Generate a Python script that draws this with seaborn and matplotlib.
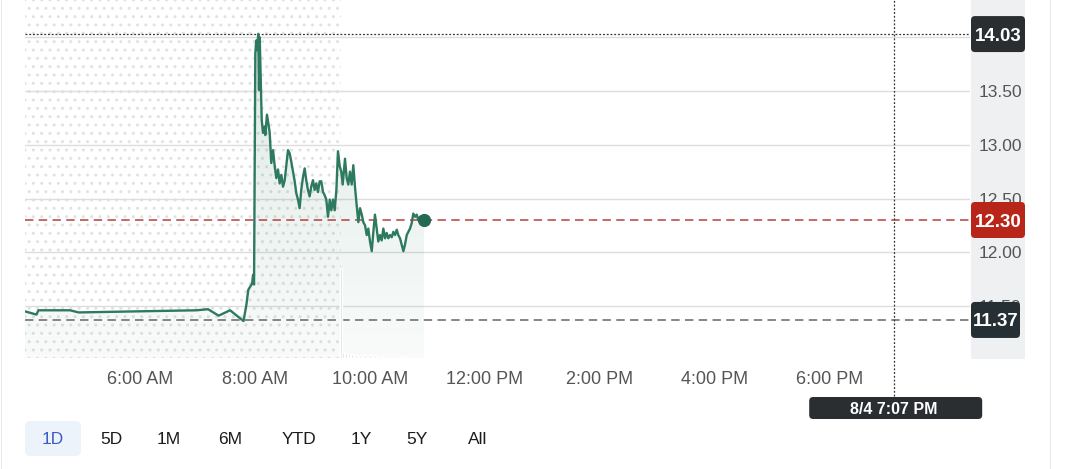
import numpy as np
import pandas as pd
import matplotlib
matplotlib.use("Agg")
import matplotlib.pyplot as plt
import seaborn as sns
from matplotlib.patches import FancyBboxPatch, Rectangle

# intraday price (times are local, HH:MM:SS)
times = [
    "04:00:00", "04:12:00", "04:14:00", "04:47:00", "04:56:00", "06:59:00", "07:11:00",
    "07:22:00", "07:34:00", "07:48:00", "07:51:00", "07:53:00", "07:57:00", "07:58:00",
    "07:59:00", "08:00:20", "08:01:15", "08:02:05", "08:03:25", "08:04:10", "08:04:55",
    "08:05:45", "08:07:00", "08:08:20", "08:10:05", "08:10:45", "08:12:30", "08:14:15",
    "08:15:20", "08:17:00", "08:18:50", "08:20:35", "08:22:15", "08:24:00", "08:25:45",
    "08:27:30", "08:29:15", "08:31:00", "08:34:25", "08:36:10", "08:37:55", "08:39:40",
    "08:41:25", "08:43:05", "08:44:50", "08:46:35", "08:48:15", "08:50:05", "08:51:50",
    "08:53:30", "08:55:15", "08:57:00", "08:58:40", "09:00:30", "09:02:15", "09:03:55",
    "09:05:40", "09:07:30", "09:09:10", "09:11:00", "09:12:45", "09:14:25", "09:16:10",
    "09:18:00", "09:19:40", "09:21:25", "09:23:10", "09:24:55", "09:26:35", "09:28:25",
    "09:30:00", "09:31:30", "09:33:55", "09:35:40", "09:37:20", "09:39:05", "09:40:55",
    "09:42:35", "09:44:25", "09:46:05", "09:47:50", "09:49:35", "09:51:25", "09:53:00",
    "09:54:50", "09:56:35", "09:58:15", "10:00:00", "10:01:50", "10:03:30", "10:05:10",
    "10:07:00", "10:08:40", "10:10:25", "10:12:10", "10:13:55", "10:15:40", "10:17:25",
    "10:19:05", "10:20:55", "10:22:40", "10:24:20", "10:26:05", "10:27:55", "10:29:30",
    "10:31:20", "10:33:05", "10:34:50", "10:36:30", "10:38:20", "10:40:00", "10:41:45",
    "10:43:30", "10:45:10", "10:47:00", "10:48:45", "10:50:25", "10:52:10", "10:56:25",
]
prices = [
    11.45, 11.42, 11.46, 11.46, 11.44, 11.46, 11.47,
    11.41, 11.46, 11.36, 11.51, 11.65, 11.71, 11.79,
    11.70, 13.85, 13.97, 13.88, 14.03, 13.51, 14.00,
    13.70, 13.23, 13.11, 13.17, 13.09, 13.28, 13.18,
    13.11, 12.83, 12.95, 12.80, 12.69, 12.77, 12.64,
    12.72, 12.61, 12.67, 12.95, 12.92, 12.84, 12.75,
    12.66, 12.55, 12.49, 12.41, 12.58, 12.70, 12.78,
    12.67, 12.58, 12.52, 12.61, 12.67, 12.58, 12.64,
    12.56, 12.66, 12.66, 12.56, 12.53, 12.49, 12.33,
    12.49, 12.39, 12.49, 12.39, 12.58, 12.94, 12.80,
    12.75, 12.63, 12.87, 12.69, 12.63, 12.75, 12.63,
    12.81, 12.60, 12.44, 12.28, 12.41, 12.35, 12.28,
    12.25, 12.16, 12.22, 12.10, 12.01, 12.19, 12.35,
    12.22, 12.10, 12.16, 12.11, 12.22, 12.13, 12.18,
    12.13, 12.16, 12.14, 12.19, 12.16, 12.21, 12.16,
    12.13, 12.07, 12.01, 12.07, 12.16, 12.19, 12.22,
    12.27, 12.36, 12.33, 12.35, 12.30, 12.33, 12.30,
]

# faint volume bars of the regular session (thousand shares, estimated)
vol_times = ["09:30:00", "09:32:00", "09:35:00", "09:38:00", "09:41:00", "09:45:00",
             "09:50:00", "09:55:00", "10:00:00", "10:05:00", "10:10:00", "10:15:00",
             "10:20:00", "10:25:00", "10:30:00", "10:35:00", "10:40:00", "10:45:00",
             "10:50:00", "10:55:00"]
vol_values = [900, 60, 50, 45, 40, 35, 30, 30, 35, 30, 25, 25,
              20, 20, 25, 20, 20, 25, 20, 20]

prev_close = 11.37
day_high = 14.03
last_price = 12.30
session_open = "09:30:00"
cursor_time = "19:07:00"
cursor_label = "8/4 7:07 PM"

x_ticks = [6, 8, 10, 12, 14, 16, 18]
x_tick_labels = ["6:00 AM", "8:00 AM", "10:00 AM", "12:00 PM", "2:00 PM", "4:00 PM", "6:00 PM"]
y_ticks = [11.5, 12.0, 12.5, 13.0, 13.5, 14.0]
ranges = ["1D", "5D", "1M", "6M", "YTD", "1Y", "5Y", "All"]
range_x = [53, 111, 169, 230, 299, 361, 417, 478]


def to_hours(t):
    return pd.to_timedelta(pd.Series(t)).dt.total_seconds().to_numpy() / 3600


df = pd.DataFrame({"hour": to_hours(times), "price": prices})
vol = pd.DataFrame({"hour": to_hours(vol_times), "volume": vol_values})

sns.set_theme(style="white")
plt.rcParams["font.family"] = ["Liberation Sans", "DejaVu Sans"]
plt.rcParams["hatch.linewidth"] = 1.0

W, H = 1066, 469
GREEN = "#2d7a5f"
fig = plt.figure(figsize=(W / 100, H / 100), dpi=100)
fig.patch.set_facecolor("white")
ax = fig.add_axes([25 / W, 1 - 358 / H, 945 / W, 358 / H])

# volume on a hidden twin axis (made first: twinx moves the main ticks to the left)
axv = ax.twinx()

x0, x1 = 4.0, 4.0 + 945 / 57.5
y0, y1 = 11.016, 14.347

# pre-market dotted texture
ax.axvspan(x0, to_hours([session_open])[0], facecolor="none", edgecolor="#e2e2e2",
           hatch="..", linewidth=0, zorder=0)

# gradient area under the price line
poly = ax.fill_between(df["hour"], df["price"], y0, color="none", linewidth=0)
grad = np.zeros((256, 1, 4))
grad[..., :3] = matplotlib.colors.to_rgb(GREEN)
grad[..., 3] = np.linspace(0.03, 0.16, 256)[:, None]
im = ax.imshow(grad, extent=[x0, df["hour"].max(), y0, df["price"].max()],
               origin="lower", aspect="auto", zorder=1)
im.set_clip_path(poly.get_paths()[0], transform=ax.transData)

sns.lineplot(data=df, x="hour", y="price", color=GREEN, linewidth=1.7, ax=ax, zorder=4)
ax.plot(df["hour"].iloc[-1], df["price"].iloc[-1], "o", ms=8.5, color="#226b52", zorder=5)

ax.axhline(day_high, color="#333333", lw=0.9, ls=(0, (1.5, 1.5)), zorder=3)
ax.axhline(last_price, color="#b8403a", lw=1.1, ls=(0, (5.5, 3.5)), zorder=3)
ax.axhline(prev_close, color="#666666", lw=1.1, ls=(0, (5.5, 3.5)), zorder=3)
ax.axvline(to_hours([cursor_time])[0], ymin=-(396 - 358) / 358, ymax=1, clip_on=False,
           color="#333333", lw=0.9, ls=(0, (1.5, 1.5)), zorder=3)

ax.set_xlim(x0, x1)
ax.set_ylim(y0, y1)
ax.set_yticks(y_ticks)
ax.set_yticklabels([f"{v:.2f}" for v in y_ticks])
ax.set_xticks(x_ticks)
ax.set_xticklabels(x_tick_labels)
ax.grid(axis="y", color="#dddddd", lw=1)
ax.grid(axis="x", visible=False)
ax.tick_params(axis="y", left=False, right=False, labelleft=False, labelright=True,
               length=0, pad=6, labelsize=12.5, labelcolor="#555555")
ax.tick_params(axis="x", length=0, pad=9, labelsize=13, labelcolor="#555555")
ax.set_xlabel("")
ax.set_ylabel("")
for s in ax.spines.values():
    s.set_visible(False)

axv.bar(vol["hour"], vol["volume"], width=0.035, color="#d8dcda", zorder=2)
axv.set_ylim(0, vol["volume"].max() * 358 / 90)
axv.set_xlim(x0, x1)
axv.axis("off")


def px_box(x, ytop, w, h, color, r=4, z=2):
    p = FancyBboxPatch((x / 100, (H - ytop - h) / 100), w / 100, h / 100,
                       boxstyle=f"round,pad=0,rounding_size={r / 100}",
                       transform=fig.dpi_scale_trans, facecolor=color,
                       edgecolor="none", zorder=z)
    fig.add_artist(p)


# grey strip behind the price scale
fig.add_artist(Rectangle((971 / W, 1 - 359 / H), 54 / W, 359 / H, transform=fig.transFigure,
                         facecolor="#eef0f2", edgecolor="none", zorder=-1))

# value badges on the price scale
for val, col, w in [(day_high, "#2b2e31", 54), (last_price, "#b8261a", 54),
                    (prev_close, "#263034", 49)]:
    yd = ax.transData.transform((x0, val))[1]
    ytop = H - yd - 18
    px_box(971, ytop, w, 36, col)
    fig.text((971 + w / 2) / W, yd / H, f"{val:.2f}", color="white", fontsize=13.5,
             weight="bold", ha="center", va="center_baseline", zorder=3)

# cursor date badge
xd = ax.transData.transform((to_hours([cursor_time])[0], y0))[0]
px_box(xd - 85, 397, 173, 22, "#2b2e31")
fig.text(xd / W, 1 - 408 / H, cursor_label, color="white", fontsize=11.5,
         weight="bold", ha="center", va="center_baseline", zorder=3)

# range selector
px_box(25, 421, 56, 35, "#edf3fb", r=5)
for lab, cx in zip(ranges, range_x):
    fig.text(cx / W, 1 - 438 / H, lab, fontsize=12.5, ha="center", va="center_baseline",
             color="#3b5cc4" if lab == "1D" else "#1c1c1c")

# page borders
fig.add_artist(Rectangle((1 / W, 0), 1.2 / W, 1, transform=fig.transFigure,
                         facecolor="#e8e8e8", edgecolor="none"))
fig.add_artist(Rectangle((1050 / W, 0), 1.2 / W, 1, transform=fig.transFigure,
                         facecolor="#e8e8e8", edgecolor="none"))

fig.savefig("out.png", dpi=100)
